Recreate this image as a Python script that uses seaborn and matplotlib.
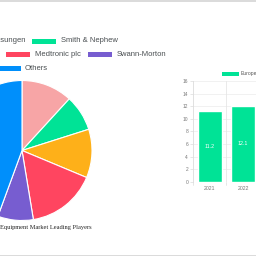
import matplotlib
matplotlib.use("Agg")
import matplotlib.pyplot as plt
from matplotlib.patches import Rectangle
from matplotlib.lines import Line2D
import seaborn as sns
import pandas as pd

# ---- data ----
players = ["B. Braun Melsungen", "Smith & Nephew", "Integra LifeSciences", "Medtronic plc", "Swann-Morton", "Others"]
shares = [11.8, 8.3, 11.2, 16.1, 8.2, 44.4]
player_colors = ["#f7a5a6", "#00e396", "#feb019", "#ff4560", "#775dd0", "#008ffb"]

years = ["2021", "2022"]
market_size = [11.2, 12.1]
bar_series = "Europe"
bar_color = "#00e396"
y_ticks = [0, 2, 4, 6, 8, 10, 12, 14, 16]

pie_title = "Equipment Market Leading Players"

sns.set_theme(style="white")
plt.rcParams["font.family"] = ["Liberation Sans", "DejaVu Sans"]

W = H = 256
fig = plt.figure(figsize=(2.56, 2.56), dpi=100)
fig.patch.set_facecolor("white")

def fx(x):
    return x / W

def fy(y):
    return 1 - y / H

# page border lines
fig.add_artist(Line2D([0, 1], [fy(0.5), fy(0.5)], color="#d4d4d4", lw=1.2, transform=fig.transFigure))
fig.add_artist(Line2D([0, 1], [fy(255.5), fy(255.5)], color="#d4d4d4", lw=1.2, transform=fig.transFigure))

# ---- pie ----
cx, cy, r = 22, 150.5, 70
axp = fig.add_axes([fx(cx - r), fy(cy + r), 2 * r / W, 2 * r / H])
axp.pie(shares, colors=player_colors, startangle=90, counterclock=False,
        wedgeprops=dict(edgecolor="white", linewidth=0.8))
axp.set_xlim(-1, 1)
axp.set_ylim(-1, 1)
axp.set_aspect("equal")
axp.axis("off")

fig.text(fx(92), fy(227.5), pie_title, ha="right", va="center", fontsize=4.6,
         family=["Liberation Serif", "DejaVu Serif"], color="#222222")

# ---- pie legend (manually laid out rows) ----
leg_color = "#4a4f52"
def legend_item(x0, yc, w, color, h=5):
    fig.add_artist(Rectangle((fx(x0), fy(yc + h / 2)), w / W, h / H, transform=fig.transFigure,
                             facecolor=color, edgecolor="none"))

def legend_text(x, yc, label, ha="left"):
    fig.text(fx(x), fy(yc), label, ha=ha, va="center", fontsize=5.5, color=leg_color)

# row 1
legend_text(25, 41, players[0], ha="right")
legend_item(32, 41, 24, player_colors[1])
legend_text(61, 41, players[1])
# row 2
legend_item(6, 54.5, 24, player_colors[3])
legend_text(35, 54.5, players[3])
legend_item(88, 54.5, 24, player_colors[4])
legend_text(117, 54.5, players[4])
# row 3
legend_item(-4, 68.5, 25, player_colors[5])
legend_text(25, 68.5, players[5])

# ---- bar chart ----
y0, y16 = 181.7, 81.0
cat_w = 33.4
axb = fig.add_axes([fx(193), fy(y0), 2 * cat_w / W, (y0 - y16) / H])
df = pd.DataFrame({"year": years, "value": market_size})
sns.barplot(data=df, x="year", y="value", color=bar_color, saturation=1, width=0.72, ax=axb)
axb.set_xlim(-0.5, 1.5)
axb.set_ylim(0, 16)
axb.set_yticks(y_ticks)
axb.set_xlabel("")
axb.set_ylabel("")
for t in y_ticks:
    axb.axhline(t, color="#efefef", lw=0.6, zorder=0)
for xb in [0.5, 1.5]:
    axb.axvline(xb, color="#e6e6e6", lw=0.6, zorder=0)
for s in ["top", "right", "bottom"]:
    axb.spines[s].set_visible(False)
axb.spines["left"].set_color("#dcdcdc")
axb.spines["left"].set_linewidth(0.6)
axb.tick_params(axis="y", labelsize=3.5, labelcolor="#777777", length=2, width=0.5,
                color="#dcdcdc", pad=1.5, left=True)
axb.tick_params(axis="x", labelsize=3.7, labelcolor="#777777", length=0, pad=3)
for xb in [-0.5, 0.5, 1.5]:
    axb.plot([xb, xb], [0, -0.55], color="#dcdcdc", lw=0.5, clip_on=False)
for i, v in enumerate(market_size):
    axb.text(i, v / 2, f"{v}", ha="center", va="center", fontsize=3.8, color="white")

# bar legend
fig.add_artist(Rectangle((fx(222), fy(76)), 17 / W, 4 / H, transform=fig.transFigure,
                         facecolor=bar_color, edgecolor="none"))
fig.text(fx(241), fy(74), bar_series, ha="left", va="center", fontsize=3.6, color="#555555")

fig.savefig("out.png", dpi=100)
